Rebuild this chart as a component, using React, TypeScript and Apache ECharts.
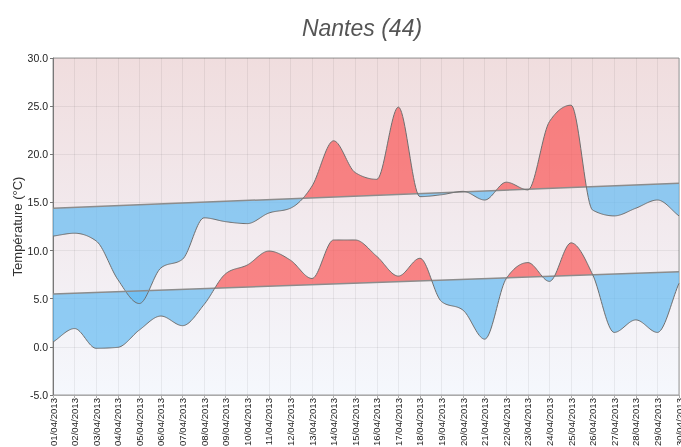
import React, { useEffect, useRef } from 'react';
import * as echarts from 'echarts';

const days = [
  '01/04/2013', '02/04/2013', '03/04/2013', '04/04/2013', '05/04/2013', '06/04/2013',
  '07/04/2013', '08/04/2013', '09/04/2013', '10/04/2013', '11/04/2013', '12/04/2013',
  '13/04/2013', '14/04/2013', '15/04/2013', '16/04/2013', '17/04/2013', '18/04/2013',
  '19/04/2013', '20/04/2013', '21/04/2013', '22/04/2013', '23/04/2013', '24/04/2013',
  '25/04/2013', '26/04/2013', '27/04/2013', '28/04/2013', '29/04/2013', '30/04/2013',
];

const tempMax = [
  11.5, 11.8, 11.0, 7.0, 4.5, 8.2, 9.1, 13.4, 13.0, 12.8, 13.9, 14.4, 16.7, 21.4, 18.1,
  17.4, 24.9, 15.6, 15.8, 16.15, 15.25, 17.1, 16.3, 23.4, 25.1, 14.2, 13.6, 14.4, 15.25, 13.6,
];

const tempMin = [
  0.5, 1.9, -0.15, -0.05, 1.75, 3.2, 2.2, 4.4, 7.6, 8.5, 9.95, 9.0, 7.1, 11.1, 11.1,
  9.4, 7.35, 9.2, 4.7, 3.8, 0.8, 7.1, 8.75, 6.8, 10.8, 7.5, 1.5, 2.8, 1.5, 6.6,
];

// normals: value on first day and on last day (straight line)
const normalMax = [14.4, 17.0];
const normalMin = [5.5, 7.8];

const yTicks = [-5, 0, 5, 10, 15, 20, 25, 30];

const RED = 'rgba(250,86,86,0.7)';
const BLUE = 'rgba(100,187,242,0.7)';

function monotoneSamples(pts: number[][], per: number): number[][] {
  const n = pts.length;
  const xs = pts.map((p) => p[0]);
  const ys = pts.map((p) => p[1]);
  const s: number[] = [];
  for (let i = 0; i < n - 1; i++) s.push((ys[i + 1] - ys[i]) / (xs[i + 1] - xs[i]));
  const m: number[] = new Array(n).fill(0);
  m[0] = s[0];
  m[n - 1] = s[n - 2];
  for (let i = 1; i < n - 1; i++) {
    const h0 = xs[i] - xs[i - 1];
    const h1 = xs[i + 1] - xs[i];
    const s0 = s[i - 1];
    const s1 = s[i];
    const p = (s0 * h1 + s1 * h0) / (h0 + h1);
    m[i] = (Math.sign(s0) + Math.sign(s1)) * Math.min(Math.abs(s0), Math.abs(s1), 0.5 * Math.abs(p));
  }
  const out: number[][] = [];
  for (let i = 0; i < n - 1; i++) {
    const h = xs[i + 1] - xs[i];
    for (let k = 0; k < per; k++) {
      const t = k / per;
      const t2 = t * t;
      const t3 = t2 * t;
      const h00 = 2 * t3 - 3 * t2 + 1;
      const h10 = t3 - 2 * t2 + t;
      const h01 = -2 * t3 + 3 * t2;
      const h11 = t3 - t2;
      out.push([xs[i] + t * h, h00 * ys[i] + h10 * h * m[i] + h01 * ys[i + 1] + h11 * h * m[i + 1]]);
    }
  }
  out.push([xs[n - 1], ys[n - 1]]);
  return out;
}

function buildPair(api: any, vals: number[], normal: number[]) {
  const last = vals.length - 1;
  const pts = vals.map((v, i) => api.coord([i, v]));
  const nA = api.coord([0, normal[0]]);
  const nB = api.coord([last, normal[1]]);
  const ny = (x: number) => nA[1] + ((x - nA[0]) / (nB[0] - nA[0])) * (nB[1] - nA[1]);
  const curve = monotoneSamples(pts, 20);
  const fills: any[] = [];
  let run: number[][] = [curve[0]];
  let prevD = ny(curve[0][0]) - curve[0][1];
  let runSign = prevD >= 0 ? 1 : -1;
  const close = (r: number[][], sign: number) => {
    const startX = r[0][0];
    const endX = r[r.length - 1][0];
    const poly = r.concat([[endX, ny(endX)], [startX, ny(startX)]]);
    fills.push({
      type: 'polygon',
      shape: { points: poly },
      style: { fill: sign > 0 ? RED : BLUE, stroke: 'none' },
      silent: true,
    });
  };
  for (let k = 1; k < curve.length; k++) {
    const p = curve[k];
    const d = ny(p[0]) - p[1];
    const sign = d >= 0 ? 1 : -1;
    if (sign !== runSign && d !== 0 && prevD !== 0) {
      const q = curve[k - 1];
      const t = prevD / (prevD - d);
      const ix = q[0] + t * (p[0] - q[0]);
      const I = [ix, ny(ix)];
      run.push(I);
      close(run, runSign);
      run = [I];
      runSign = sign;
    }
    run.push(p);
    prevD = d;
  }
  close(run, runSign);
  const strokes = [
    {
      type: 'polyline',
      shape: { points: [nA, nB] },
      style: { stroke: '#8c8c8c', lineWidth: 1.5, fill: 'none' },
      silent: true,
    },
    {
      type: 'polyline',
      shape: { points: curve },
      style: { stroke: '#6f6f6f', lineWidth: 1, fill: 'none' },
      silent: true,
    },
  ];
  return { fills, strokes };
}

export default function App() {
  const ref = useRef<HTMLDivElement>(null);
  useEffect(() => {
    if (!ref.current) return;
    const chart = echarts.init(ref.current, undefined, { renderer: 'svg' });
    const font = 'Liberation Sans, Arial, Helvetica, sans-serif';
    chart.setOption({
      animation: false,
      textStyle: { fontFamily: font },
      title: {
        text: 'Nantes (44)',
        left: 357,
        textAlign: 'center',
        top: 11,
        textStyle: {
          fontStyle: 'italic',
          fontWeight: 'normal',
          fontSize: 23,
          color: '#555555',
          fontFamily: font,
        },
      },
      grid: {
        left: 53,
        right: 2,
        top: 58,
        bottom: 52,
        containLabel: false,
        outerBoundsMode: 'none',
        show: true,
        borderColor: '#9a9a9a',
        borderWidth: 1,
        backgroundColor: {
          type: 'linear',
          x: 0,
          y: 0,
          x2: 0,
          y2: 1,
          colorStops: [
            { offset: 0, color: 'rgb(240,221,222)' },
            { offset: 0.5, color: 'rgb(242,234,238)' },
            { offset: 1, color: 'rgb(245,248,253)' },
          ],
        },
      },
      xAxis: {
        type: 'category',
        data: days,
        boundaryGap: false,
        axisLine: { show: true, onZero: false, lineStyle: { color: '#aaaaaa', width: 1 } },
        axisTick: { show: true, interval: 0, length: 3, lineStyle: { color: '#aaaaaa' } },
        axisLabel: {
          interval: 0,
          rotate: 90,
          fontSize: 9.6,
          color: '#222222',
          margin: 3,
          fontFamily: font,
        },
        splitLine: { show: true, interval: 0, lineStyle: { color: 'rgba(0,0,0,0.06)', width: 1 } },
      },
      yAxis: {
        type: 'value',
        min: -5,
        max: 30,
        interval: 5,
        name: 'Température (°C)',
        nameLocation: 'middle',
        nameGap: 29,
        nameRotate: 90,
        nameMoveOverlap: false,
        nameTextStyle: { fontSize: 13, color: '#333333', fontFamily: font },
        axisLine: { show: true, lineStyle: { color: '#777777', width: 1 } },
        axisTick: { show: true, length: 3, lineStyle: { color: '#777777' } },
        axisLabel: {
          fontSize: 10.5,
          color: '#222222',
          margin: 5,
          fontFamily: font,
          formatter: (v: number) => (yTicks.includes(v) ? v.toFixed(1) : ''),
        },
        splitLine: { show: true, lineStyle: { color: 'rgba(0,0,0,0.06)', width: 1 } },
      },
      series: [
        {
          type: 'custom',
          name: 'temperatures',
          clip: false,
          silent: true,
          data: [[0, 0]],
          renderItem: (params: any, api: any) => {
            const a = buildPair(api, tempMax, normalMax);
            const b = buildPair(api, tempMin, normalMin);
            return {
              type: 'group',
              children: [...a.fills, ...b.fills, ...a.strokes, ...b.strokes],
            };
          },
        },
      ],
    });
    return () => chart.dispose();
  }, []);
  return (
    <div
      ref={ref}
      style={{ position: 'fixed', left: 0, top: 0, width: 681, height: 447 }}
    />
  );
}
